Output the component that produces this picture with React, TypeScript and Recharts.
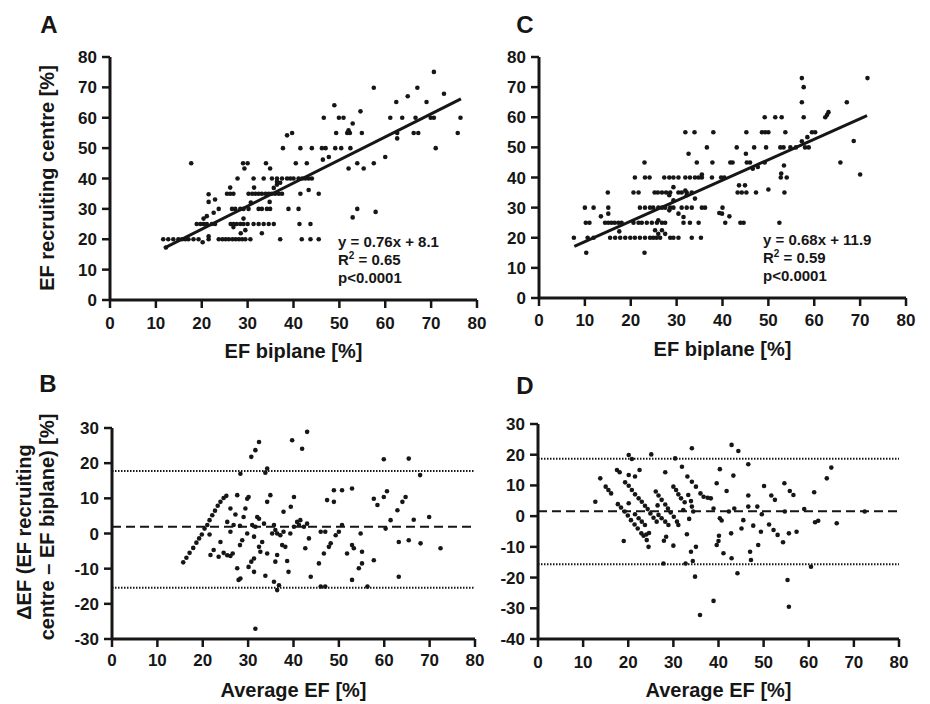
import {
  ReferenceLine,
  Scatter,
  ScatterChart,
  XAxis,
  YAxis,
  Label,
} from "recharts";

const FONT = '"Liberation Sans", Arial, Helvetica, sans-serif';
const INK = "#161616";

const xTicks = [0, 10, 20, 30, 40, 50, 60, 70, 80];
const efTicks = [0, 10, 20, 30, 40, 50, 60, 70, 80];
const deltaTicksB = [-30, -20, -10, 0, 10, 20, 30];
const deltaTicksD = [-40, -30, -20, -10, 0, 10, 20, 30];

// [EF biplane, EF recruiting centre]
const pointsA: [number, number][] = [
  [12.2, 17.3], [11.6, 20], [12.7, 20], [13.8, 20], [14.9, 20], [15.7, 20], [16.4, 20], [17.1, 20],
  [18.2, 20], [19.3, 20], [20.2, 19], [21.5, 21], [21.5, 20], [23.7, 20], [24.5, 20], [25.2, 20],
  [25.9, 20], [26.7, 20], [27.4, 20], [28.1, 20], [28.8, 20], [29.5, 20], [30.6, 20], [37.1, 20],
  [41.8, 20], [43.7, 20], [45.5, 20], [28.5, 22], [33.1, 22], [29.5, 23],
  [18.9, 25], [19.7, 25], [20.4, 25], [21.1, 25], [22.2, 25], [22.9, 25], [26.3, 25], [26.9, 25],
  [27.6, 25], [28.4, 25], [29.1, 25], [30.0, 25], [31.3, 25], [32.4, 25], [33.5, 25], [34.6, 25],
  [35.7, 25], [41.3, 25], [43.7, 25], [26.9, 24], [29.1, 26.8], [20.4, 26.8], [21.1, 27.6], [22.6, 28.7],
  [23.7, 30], [26.6, 30], [27.3, 30], [28.4, 30], [29.1, 30], [30.2, 30], [32.4, 30], [33.1, 30],
  [34.2, 30], [34.9, 30], [38.9, 30], [41.1, 30], [53.9, 30], [52.9, 27.2], [57.9, 29], [34.8, 32.3],
  [30.7, 32.1], [21.5, 32.3], [22.9, 33.1], [21.5, 34.8],
  [25.5, 35], [26.2, 35], [26.9, 35], [30.2, 35], [31.0, 35], [31.7, 35], [32.4, 35], [33.1, 35],
  [33.9, 35], [34.6, 35], [35.3, 35], [36.0, 35], [36.8, 35], [37.5, 35], [41.5, 35], [45.5, 35],
  [26.2, 37], [31.4, 37], [43.3, 36.2], [35.7, 36.9], [36.4, 38],
  [27.8, 40], [31.3, 40], [33.5, 40], [35.3, 40], [36.4, 40], [37.5, 40], [38.6, 40], [39.3, 40],
  [40.0, 40], [41.1, 40], [41.9, 40], [42.6, 40], [43.3, 40], [44.0, 40], [36.4, 38.9], [37.1, 38.6],
  [17.7, 45], [29.0, 45], [30.0, 45], [34.0, 45], [40.5, 45], [42.9, 45], [29.3, 43.3], [34.9, 43.3],
  [52.0, 43.3], [53.9, 45], [55.3, 43.3], [57.5, 45], [46.4, 46.2], [47.7, 47.1], [60.0, 47.1],
  [37.7, 50], [41.5, 50], [44.0, 50], [46.2, 50], [47.0, 50], [49.1, 50], [50.4, 50], [52.4, 50],
  [71.0, 50],
  [38.6, 54.2], [39.7, 55], [49.3, 55], [51.7, 55], [52.3, 55], [54.9, 55], [62.6, 55], [66.2, 55],
  [67.2, 55], [75.8, 55], [52.0, 55.9], [62.6, 53.2], [52.9, 58.1],
  [46.6, 60], [49.9, 60], [50.9, 60], [61.1, 60], [63.7, 60], [66.6, 60], [69.9, 60], [70.6, 60],
  [76.4, 60], [54.6, 62.1], [48.9, 64.1], [62.4, 65.2], [64.9, 67.1], [69.0, 65.2], [72.8, 67.9],
  [57.5, 69.9], [67.0, 69.9], [70.6, 75.1],
];

const pointsC: [number, number][] = [
  [7.6, 20], [10.6, 20], [11.9, 20], [15.5, 20], [16.6, 20], [17.7, 20], [18.8, 20], [19.9, 20],
  [20.9, 20], [22.0, 20], [23.1, 20], [24.2, 20], [24.9, 20], [25.6, 20], [26.4, 20], [28.6, 20],
  [29.3, 20], [30.4, 20], [33.3, 20], [35.3, 20], [10.3, 15], [23.0, 15], [17.5, 22.1], [26.0, 21.3],
  [26.8, 22.5], [27.5, 21.3],
  [10.2, 25], [11.0, 25], [14.4, 25], [15.1, 25], [15.8, 25], [16.5, 25], [17.3, 25], [18.0, 25],
  [20.6, 25], [21.7, 25], [22.4, 25], [23.5, 25], [24.6, 25], [25.7, 25], [26.8, 25], [27.5, 25],
  [31.5, 25], [32.9, 25], [34.8, 25], [13.5, 27.1], [15.1, 28], [31.5, 26.9], [26.0, 25.8], [25.3, 22.5],
  [40.6, 25], [43.9, 25], [44.6, 25], [52.4, 25], [39.9, 28], [41.5, 27.1], [39.3, 28.2],
  [10.0, 30], [11.9, 30], [15.1, 30], [22.0, 30], [23.1, 30], [24.2, 30], [24.9, 30], [26.0, 30],
  [26.8, 30], [27.5, 30], [28.6, 30], [29.3, 30], [31.1, 30], [32.2, 30], [33.3, 30], [35.5, 30],
  [36.2, 30], [40.0, 30], [28.4, 29.1], [30.4, 28], [34.0, 33], [29.3, 32.4],
  [15.0, 35], [20.6, 35], [21.7, 35], [25.2, 35], [25.9, 35], [26.8, 35], [27.7, 35], [28.6, 35],
  [30.4, 35], [31.1, 35], [32.2, 35], [33.3, 35], [43.3, 35], [44.2, 35], [45.2, 35], [47.3, 35],
  [53.5, 35], [29.3, 36.8], [28.4, 34.1], [31.9, 35.7], [32.2, 34.1],
  [20.9, 40], [23.1, 40], [24.1, 40], [27.3, 40], [28.4, 40], [29.3, 40], [30.4, 40], [31.9, 40],
  [32.9, 40], [34.0, 40], [34.8, 40], [35.5, 40], [37.7, 40], [39.7, 40], [40.4, 40], [52.7, 40],
  [54.0, 40], [35.5, 41], [52.8, 41.3], [43.6, 37.4], [44.9, 37.4],
  [23.0, 45], [34.4, 45], [37.8, 45], [41.7, 45], [42.2, 45], [45.3, 45], [46.0, 45], [49.2, 45],
  [32.6, 47.9], [45.1, 47.9], [46.6, 42.9], [47.7, 43.5], [50.0, 36], [53.4, 44], [65.7, 45],
  [36.6, 50], [43.1, 50], [46.9, 50], [49.5, 50], [52.6, 50], [53.3, 50], [54.8, 50], [56.0, 50],
  [58.0, 50], [58.8, 50], [57.3, 52], [58.5, 53.4], [68.6, 52.1], [70.0, 41],
  [31.9, 55], [33.9, 55], [38.0, 55], [45.2, 55], [48.6, 55], [49.3, 55], [50.0, 55], [53.7, 55],
  [59.5, 55], [60.2, 55],
  [49.2, 60], [51.5, 60], [52.9, 60], [57.7, 60], [62.4, 60], [62.8, 60.8], [63.1, 61.7], [57.3, 65],
  [57.7, 70], [57.3, 73], [67.1, 65], [71.6, 73],
];

// [average EF, delta EF]
const pointsB: [number, number][] = [
  [15.7, -8.2], [16.4, -6.9], [17.1, -5.5], [17.9, -4.1], [18.6, -2.6], [19.2, -1.4], [19.8, -0.3], [20.4, 1.4],
  [21.0, 2.4], [21.5, 3.8], [22.1, 5.2], [22.7, 6.5], [23.3, 7.9], [23.9, 9.0], [24.6, 10.1], [25.2, 10.7],
  [21.5, -0.3], [21.7, -6.1], [22.4, -4.7], [23.5, -6.6], [23.9, -2.4], [24.6, -5.5], [25.4, -6.2], [26.1, -6.4],
  [26.1, 7.1], [27.2, 5.4], [27.6, 10.9], [26.8, 2.4], [26.1, 0.5], [25.4, 3.3], [26.6, -5.7], [27.6, -9.9],
  [28.3, -12.8], [27.9, -13.2], [28.2, -3.3], [28.7, -1.9], [28.2, 2.2], [29.0, 4.7], [29.4, 7.1], [29.8, 9.9],
  [30.1, 10.4], [28.3, 17.0], [30.1, -9.5], [30.7, -8.0], [31.3, -7.1], [31.3, -10.9], [31.6, -27.1], [29.8, 0.0],
  [31.3, -0.9], [30.9, 2.4], [32.0, 4.7], [32.7, -5.2], [32.4, -3.8], [33.1, -2.4], [33.5, 2.8], [34.2, 9.0],
  [34.9, 10.9], [34.2, -5.7], [33.8, -12.0], [36.0, -8.0], [36.4, -6.1], [35.7, -13.7], [36.4, -16.1], [36.8, -14.7],
  [35.7, 2.4], [36.0, 1.0], [35.3, 0.0], [36.4, 0.0], [37.1, -0.5], [37.8, 0.5], [37.5, -3.3], [38.2, -3.8],
  [38.6, -7.8], [38.9, -10.9], [37.8, 6.2], [39.4, 7.6], [40.1, 10.4], [39.7, 26.5], [41.9, 24.1], [43.0, 28.9],
  [39.3, 0.0], [40.1, 1.9], [40.8, 3.3], [41.2, 2.4], [41.5, 3.8], [42.3, 1.9], [43.0, 2.8], [43.4, -1.4],
  [42.6, -4.2], [43.8, -12.3], [45.6, -8.5], [46.0, 0.5], [47.0, 0.5], [46.7, -5.7], [47.0, -15.1], [46.0, -15.1],
  [47.8, -3.8], [48.2, -2.8], [47.4, 9.5], [48.9, 12.3], [48.9, 9.0], [49.3, -0.5], [50.0, 0.5], [50.7, 2.4],
  [50.7, 12.3], [51.8, -5.7], [52.9, 12.8], [52.9, -3.3], [53.3, -4.2], [52.9, -13.2], [54.4, -9.9], [54.8, 0.0],
  [55.1, -5.2], [55.1, -8.5], [56.3, -15.1], [57.7, 9.9], [58.5, 8.1], [57.7, -7.6], [60.3, 1.4], [59.9, 10.4],
  [60.6, 12.0], [59.9, 21.1], [61.4, 3.8], [63.2, -12.3], [63.2, -2.4], [62.9, 6.6], [64.0, 9.0], [64.7, 10.4],
  [65.4, 21.3], [65.4, -1.9], [66.5, 3.9], [68.0, -2.8], [67.9, 16.6], [69.9, 4.7], [72.4, -4.2], [32.4, 26.0],
  [31.6, 23.7], [30.7, 21.8], [33.8, 17.3], [34.2, 18.5], [32.4, 4.2], [31.6, 1.9],
];

const pointsD: [number, number][] = [
  [12.7, 4.7], [13.8, 12.3], [15.0, 9.6], [15.6, 8.5], [16.2, 7.4], [17.5, 15.0], [18.1, 14.3], [19.0, -8.1],
  [20.1, 19.9], [20.8, 18.6], [21.5, 12.9], [20.1, 13.4], [22.5, 15.0], [20.1, 4.2], [25.1, 20.1], [28.2, 14.3],
  [30.4, 18.8], [31.9, 16.1], [34.1, 22.1], [42.9, 23.2], [44.4, 21.2], [46.6, 16.9], [40.3, 15.3], [39.6, 10.7],
  [41.8, 8.2], [43.3, 13.2], [50.1, 9.8], [54.6, 10.7], [55.8, 8.2], [56.6, 6.9], [59.0, 2.3], [61.2, 7.8],
  [64.0, 12.3], [65.0, 15.8], [66.2, -2.3], [72.4, 1.5], [61.4, -2.0], [62.1, -1.5], [60.5, -16.5], [55.3, -20.8],
  [55.6, -29.5], [35.9, -32.2], [38.9, -27.6], [34.8, -19.7], [34.3, -14.6], [33.9, -11.6], [32.7, -15.4], [27.8, -15.4],
  [30.0, -9.6], [28.4, -6.7], [27.9, -8.0], [24.5, -10.0], [24.1, -7.8], [33.0, -5.9], [33.5, -0.9], [35.0, -10.0],
  [42.9, -13.7], [44.2, -18.6], [47.0, -11.6], [47.2, -14.3], [48.8, -9.4], [47.7, -3.1], [49.4, -5.1], [46.6, 6.7],
  [46.6, 3.1], [48.6, 3.1], [49.6, 0.6], [45.5, -1.3], [45.1, -4.0], [42.8, -5.6], [42.3, 1.5], [43.5, 2.5],
  [40.0, -8.1], [39.6, -9.4], [41.1, -12.1], [40.1, -6.4], [38.9, 2.5], [40.3, -0.7], [40.7, -1.4], [51.2, -2.7],
  [52.2, -4.5], [53.1, -6.1], [54.3, -8.5], [51.7, 6.7], [52.5, 5.3], [54.7, 1.5], [55.6, -5.6], [57.3, -5.1],
  [17.7, 3.9], [18.4, 2.8], [19.2, 1.5], [19.9, 0.2], [20.6, -1.3], [21.4, -2.7], [22.1, -4.0], [22.9, -5.6],
  [23.4, -6.4], [24.0, -6.0], [24.6, -5.5],
  [19.3, 11.0], [20.1, 9.9], [20.8, 8.5], [21.5, 7.1], [22.3, 5.8], [23.0, 4.7], [23.7, 3.4], [24.3, 2.3],
  [24.9, 0.9], [25.6, -0.5], [26.3, -1.8], [21.5, 0.6], [22.3, -0.7], [23.0, -1.8], [23.7, -2.9],
  [26.1, 8.0], [26.7, 6.7], [27.4, 5.3], [28.2, 3.8], [28.8, 2.5], [29.4, 1.2], [30.1, -0.2], [30.8, -1.8],
  [31.1, -2.9], [26.7, 0.4], [27.4, -0.7], [28.2, -1.8], [28.9, -2.9],
  [30.0, 9.6], [30.6, 8.5], [31.1, 7.1], [31.7, 5.8], [32.5, 4.5], [33.1, 12.9], [34.1, 11.2], [35.0, 9.6],
  [36.0, 7.4], [36.7, 6.3], [37.6, 6.0], [38.3, 5.8], [33.3, 6.9], [33.9, 4.9], [34.1, 3.1], [34.4, 1.5],
  [26.5, 3.5], [32.2, 2.0],
];

// slope, intercept and x-range of the regression lines
const fitA = [0.76, 8.1];
const fitRangeA = [11.8, 76.5];
const fitC = [0.68, 11.9];
const fitRangeC = [7.7, 71.5];

// upper limit, mean difference, lower limit
const limitsB = [17.8, 1.9, -15.4];
const limitsD = [18.7, 1.6, -15.7];

const axisLine = { stroke: INK, strokeWidth: 3 };
const tickLine = { stroke: INK, strokeWidth: 2.5 };
const tickFont = { fill: INK, fontSize: 17, fontWeight: 700, fontFamily: FONT };
const titleFont = { fill: INK, fontSize: 20, fontWeight: 700, fontFamily: FONT };

function Dot(props: any) {
  return <circle cx={props.cx} cy={props.cy} r={2.3} fill={INK} />;
}

function toRows(points: [number, number][]) {
  return points.map(([x, y]) => ({ x, y }));
}

function fitSegment(fit: number[], range: number[]) {
  return range.map((x) => ({ x, y: fit[0] * x + fit[1] }));
}

type PanelProps = {
  left: number;
  top: number;
  width: number;
  height: number;
  margin: { top: number; right: number; left: number; bottom: number };
  yWidth: number;
  xHeight: number;
  xTitle: string;
  xTitleOffset: number;
  xTickMargin: number;
  yDomain: number[];
  yTicks: number[];
  points: [number, number][];
  children?: any;
};

function Panel(p: PanelProps) {
  return (
    <div style={{ position: "absolute", left: p.left, top: p.top }}>
      <ScatterChart width={p.width} height={p.height} margin={p.margin}>
        <XAxis
          type="number"
          dataKey="x"
          domain={[0, 80]}
          ticks={xTicks}
          height={p.xHeight}
          axisLine={axisLine}
          tickLine={tickLine}
          tickSize={8}
          tickMargin={p.xTickMargin}
          tick={tickFont}
          interval={0}
        >
          <Label
            value={p.xTitle}
            position="insideBottom"
            offset={p.xTitleOffset}
            style={titleFont}
          />
        </XAxis>
        <YAxis
          type="number"
          dataKey="y"
          domain={p.yDomain}
          ticks={p.yTicks}
          width={p.yWidth}
          axisLine={axisLine}
          tickLine={tickLine}
          tickSize={8}
          tickMargin={5}
          tick={tickFont}
          interval={0}
        />
        {p.children}
        <Scatter
          data={toRows(p.points)}
          shape={<Dot />}
          isAnimationActive={false}
        />
      </ScatterChart>
    </div>
  );
}

export default function App() {
  return (
    <div
      style={{
        position: "absolute",
        left: 0,
        top: 0,
        width: 930,
        height: 704,
        overflow: "hidden",
        background: "#fff",
        fontFamily: FONT,
      }}
    >
      <Panel
        left={0}
        top={0}
        width={490}
        height={370}
        margin={{ top: 57, right: 13, left: 0, bottom: 0 }}
        yWidth={110}
        xHeight={70}
        xTitle="EF biplane [%]"
        xTitleOffset={12}
        xTickMargin={9}
        yDomain={[0, 80]}
        yTicks={efTicks}
        points={pointsA}
      >
        <ReferenceLine
          segment={fitSegment(fitA, fitRangeA)}
          stroke={INK}
          strokeWidth={3}
        />
      </Panel>
      <Panel
        left={465}
        top={0}
        width={455}
        height={370}
        margin={{ top: 57, right: 14, left: 0, bottom: 0 }}
        yWidth={74}
        xHeight={72}
        xTitle="EF biplane [%]"
        xTitleOffset={14}
        xTickMargin={8}
        yDomain={[0, 80]}
        yTicks={efTicks}
        points={pointsC}
      >
        <ReferenceLine
          segment={fitSegment(fitC, fitRangeC)}
          stroke={INK}
          strokeWidth={3}
        />
      </Panel>
      <Panel
        left={0}
        top={352}
        width={490}
        height={352}
        margin={{ top: 76, right: 15, left: 0, bottom: 0 }}
        yWidth={112}
        xHeight={65}
        xTitle="Average EF [%]"
        xTitleOffset={7}
        xTickMargin={7}
        yDomain={[-30, 30]}
        yTicks={deltaTicksB}
        points={pointsB}
      >
        <ReferenceLine y={limitsB[0]} stroke={INK} strokeWidth={2} strokeDasharray="1.5 1.5" />
        <ReferenceLine y={limitsB[1]} stroke={INK} strokeWidth={2} strokeDasharray="9 5" />
        <ReferenceLine y={limitsB[2]} stroke={INK} strokeWidth={2} strokeDasharray="1.5 1.5" />
      </Panel>
      <Panel
        left={465}
        top={352}
        width={455}
        height={352}
        margin={{ top: 72, right: 21, left: 0, bottom: 0 }}
        yWidth={73}
        xHeight={65}
        xTitle="Average EF [%]"
        xTitleOffset={7}
        xTickMargin={9}
        yDomain={[-40, 30]}
        yTicks={deltaTicksD}
        points={pointsD}
      >
        <ReferenceLine y={limitsD[0]} stroke={INK} strokeWidth={2} strokeDasharray="1.5 1.5" />
        <ReferenceLine y={limitsD[1]} stroke={INK} strokeWidth={2} strokeDasharray="9 5" />
        <ReferenceLine y={limitsD[2]} stroke={INK} strokeWidth={2} strokeDasharray="1.5 1.5" />
      </Panel>

      <svg
        width={930}
        height={704}
        style={{ position: "absolute", left: 0, top: 0, pointerEvents: "none" }}
        fontFamily={FONT}
        fontWeight={700}
        fill={INK}
      >
        <text x={49} y={33} fontSize={24} textAnchor="middle">A</text>
        <text x={525} y={33} fontSize={24} textAnchor="middle">C</text>
        <text x={48} y={392} fontSize={24} textAnchor="middle">B</text>
        <text x={525} y={394} fontSize={24} textAnchor="middle">D</text>

        <text x={54} y={178} fontSize={20} textAnchor="middle" transform="rotate(-90 54 178)">
          EF recruiting centre [%]
        </text>
        <text x={31} y={532} fontSize={20} textAnchor="middle" transform="rotate(-90 31 532)">
          ΔEF (EF recruiting
        </text>
        <text x={54} y={527} fontSize={20} textAnchor="middle" transform="rotate(-90 54 527)">
          centre – EF biplane) [%]
        </text>

        <g fontSize={15}>
          <text x={338} y={247}>y = 0.76x + 8.1</text>
          <text x={338} y={265}>
            R<tspan fontSize={10} dy={-6}>2</tspan>
            <tspan dy={6}> = 0.65</tspan>
          </text>
          <text x={338} y={283}>p&lt;0.0001</text>
          <text x={763} y={245}>y = 0.68x + 11.9</text>
          <text x={763} y={263}>
            R<tspan fontSize={10} dy={-6}>2</tspan>
            <tspan dy={6}> = 0.59</tspan>
          </text>
          <text x={763} y={281}>p&lt;0.0001</text>
        </g>
      </svg>
    </div>
  );
}
